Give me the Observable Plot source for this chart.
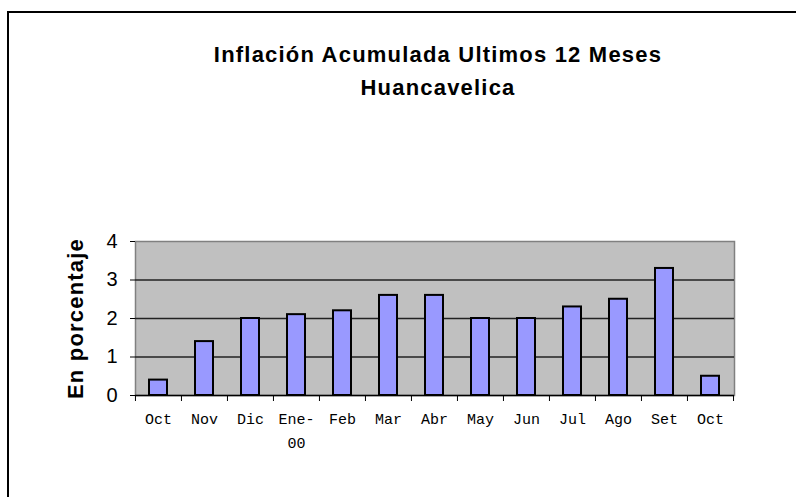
<!DOCTYPE html>
<html><head><meta charset="utf-8">
<script src="https://cdn.jsdelivr.net/npm/d3@7"></script>
<script src="https://cdn.jsdelivr.net/npm/@observablehq/plot@0.6"></script>
<style>
html,body{margin:0;padding:0;background:#fff;}
#wrap{position:relative;width:796px;height:497px;overflow:hidden;}
#border{position:absolute;left:7px;top:11px;width:900px;height:600px;border-left:2px solid #000;border-top:2px solid #000;}
#chart{position:absolute;left:0;top:0;}
</style></head><body>
<div id="wrap"><div id="border"></div><div id="chart"></div></div>
<script>
const months = ["Oct","Nov","Dic","Ene-\n00","Feb","Mar","Abr","May","Jun","Jul","Ago","Set","Oct"];
const values = [0.4, 1.4, 2.0, 2.1, 2.2, 2.6, 2.6, 2.0, 2.0, 2.3, 2.5, 3.3, 0.5];
const yTicks = [0, 1, 2, 3, 4];
const gridTicks = [1, 2, 3];
const titleLine1 = "Inflación Acumulada Ultimos 12 Meses";
const titleLine2 = "Huancavelica";
const yLabel = "En porcentaje";

const data = months.map((m, i) => ({key: i, label: m, value: values[i]}));
const keys = data.map(d => d.key);

const W = 796, H = 497, ML = 135, MR = 62, MT = 241, MB = 102;
const step = (W - ML - MR) / months.length;
const sans = "Arial, 'Liberation Sans', sans-serif";
const mono = "'Courier New', 'Liberation Mono', monospace";

const chart = Plot.plot({
  width: W, height: H,
  marginLeft: ML, marginRight: MR, marginTop: MT, marginBottom: MB,
  style: {background: "transparent", overflow: "visible"},
  x: {type: "band", domain: keys, paddingInner: 0.6, paddingOuter: 0.3},
  y: {domain: [0, 4]},
  marks: [
    Plot.frame({fill: "#c0c0c0", stroke: "#808080", strokeWidth: 1.5}),
    Plot.gridY(gridTicks, {stroke: "#222", strokeOpacity: 1, strokeWidth: 1.3}),
    Plot.barY(data, {x: "key", y: "value", fill: "#9999ff", stroke: "#000", strokeWidth: 2}),
    Plot.ruleY([0], {stroke: "#000", strokeWidth: 1.5}),
    Plot.axisY({ticks: yTicks, tickFormat: "d", tickSize: 5, tickPadding: 13, fontSize: 20, fontFamily: sans, fill: "#000", line: true, stroke: "#000", label: null}),
    Plot.axisX({ticks: keys, tickSize: 6, tickFormat: () => "", dx: -step / 2, label: null, stroke: "#000"}),
    Plot.axisX({ticks: [keys[keys.length - 1]], tickSize: 6, tickFormat: () => "", dx: step / 2, label: null, stroke: "#000"}),
    Plot.text(data, {x: "key", text: "label", frameAnchor: "bottom", lineAnchor: "top", dy: 11, lineHeight: 1.6, fontSize: 15, fontFamily: mono, fill: "#000"}),
    Plot.text([yLabel], {frameAnchor: "left", textAnchor: "middle", lineAnchor: "middle", dx: -60, rotate: -90, fontSize: 22, fontWeight: "bold", fontFamily: sans, fill: "#000"}),
    Plot.text([titleLine1], {frameAnchor: "top", lineAnchor: "middle", dx: 3, dy: -187, fontSize: 22, fontWeight: "bold", fontFamily: sans, fill: "#000"}),
    Plot.text([titleLine2], {frameAnchor: "top", lineAnchor: "middle", dx: 3, dy: -154, fontSize: 22, fontWeight: "bold", fontFamily: sans, fill: "#000"})
  ]
});
chart.querySelectorAll("text").forEach(t => {
  const s = t.textContent;
  if (s === titleLine1 || s === titleLine2 || s === yLabel) t.setAttribute("letter-spacing", "1.2");
});
document.getElementById("chart").appendChild(chart);
</script>
</body></html>
